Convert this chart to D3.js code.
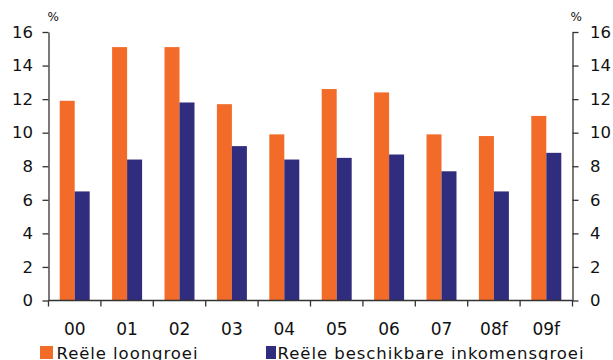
<!DOCTYPE html>
<html><head><meta charset="utf-8">
<script src="https://cdn.jsdelivr.net/npm/d3@7"></script>
<style>body{margin:0;background:#fff}svg{display:block}</style>
</head><body>
<svg id="c" width="613" height="360"></svg>
<script>
const categories = ["00","01","02","03","04","05","06","07","08f","09f"];
const seriesNames = ["Reële loongroei","Reële beschikbare inkomensgroei"];
const loongroei = [11.9,15.1,15.1,11.7,9.9,12.6,12.4,9.9,9.8,11.0];
const inkomensgroei = [6.5,8.4,11.8,9.2,8.4,8.5,8.7,7.7,6.5,8.8];
const yTicks = [0,2,4,6,8,10,12,14,16];
const colors = ["#f26b29","#312d7e"];

const svg = d3.select("#c");
const font = "DejaVu Sans, Verdana, sans-serif";
const L = 48.5, R = 572.5, T = 32, B = 300.5;

const x = d3.scaleBand().domain(categories).range([L,R]).paddingInner(0).paddingOuter(0);
const xs = d3.scaleBand().domain(seriesNames).range([0,x.bandwidth()]).paddingInner(0).paddingOuter(0.747);
const y = d3.scaleLinear().domain([0,16]).range([B,T]);

const data = categories.map((c,i)=>({c, v:[loongroei[i], inkomensgroei[i]]}));
const g = svg.append("g");
data.forEach(d=>{
  d.v.forEach((val,j)=>{
    g.append("rect")
      .attr("x", x(d.c)+xs(seriesNames[j]))
      .attr("width", xs.bandwidth())
      .attr("y", y(val))
      .attr("height", y(0)-y(val))
      .attr("fill", colors[j]);
  });
});

function styleAxis(sel, fs){
  sel.selectAll("path,line").attr("stroke","#333").attr("stroke-width",1.3);
  sel.selectAll("text").attr("font-family",font).attr("font-size",fs||"16.5px").attr("fill","#111");
}
const yl = svg.append("g").attr("transform",`translate(${L},0)`)
  .call(d3.axisLeft(y).tickValues(yTicks).tickSize(6).tickSizeOuter(0).tickPadding(9.5));
styleAxis(yl);
const yr = svg.append("g").attr("transform",`translate(${R},0)`)
  .call(d3.axisRight(y).tickValues(yTicks).tickSize(6).tickSizeOuter(0).tickPadding(11.5));
styleAxis(yr);

// x axis
const xa = svg.append("g");
xa.append("line").attr("x1",L).attr("x2",R).attr("y1",B).attr("y2",B);
const bounds = categories.map(c=>x(c)).concat([x.range()[1]]);
bounds.forEach(b=>xa.append("line").attr("x1",b).attr("x2",b).attr("y1",B).attr("y2",B+6));
categories.forEach(c=>xa.append("text").attr("x",x(c)+x.bandwidth()/2).attr("y",335)
  .attr("text-anchor","middle").text(c));
styleAxis(xa, "17px");

// % labels
svg.append("text").attr("x",L-1).attr("y",21).attr("font-family",font).attr("font-size","12px").attr("fill","#111").text("%");
svg.append("text").attr("x",R-2).attr("y",21).attr("font-family",font).attr("font-size","12px").attr("fill","#111").text("%");

// legend
const leg = [{x:40,w:13,tl:141},{x:266,w:10,tl:306}];
seriesNames.forEach((s,j)=>{
  svg.append("rect").attr("x",leg[j].x).attr("y",346).attr("width",leg[j].w).attr("height",13).attr("fill",colors[j]);
  svg.append("text").attr("x",leg[j].x+leg[j].w+1.5+(j===0?2:0)).attr("y",358.5).attr("font-family",font)
    .attr("font-size","16.5px").attr("fill","#111")
    .attr("textLength",leg[j].tl).attr("lengthAdjust","spacing").text(s);
});
</script>
</body></html>
